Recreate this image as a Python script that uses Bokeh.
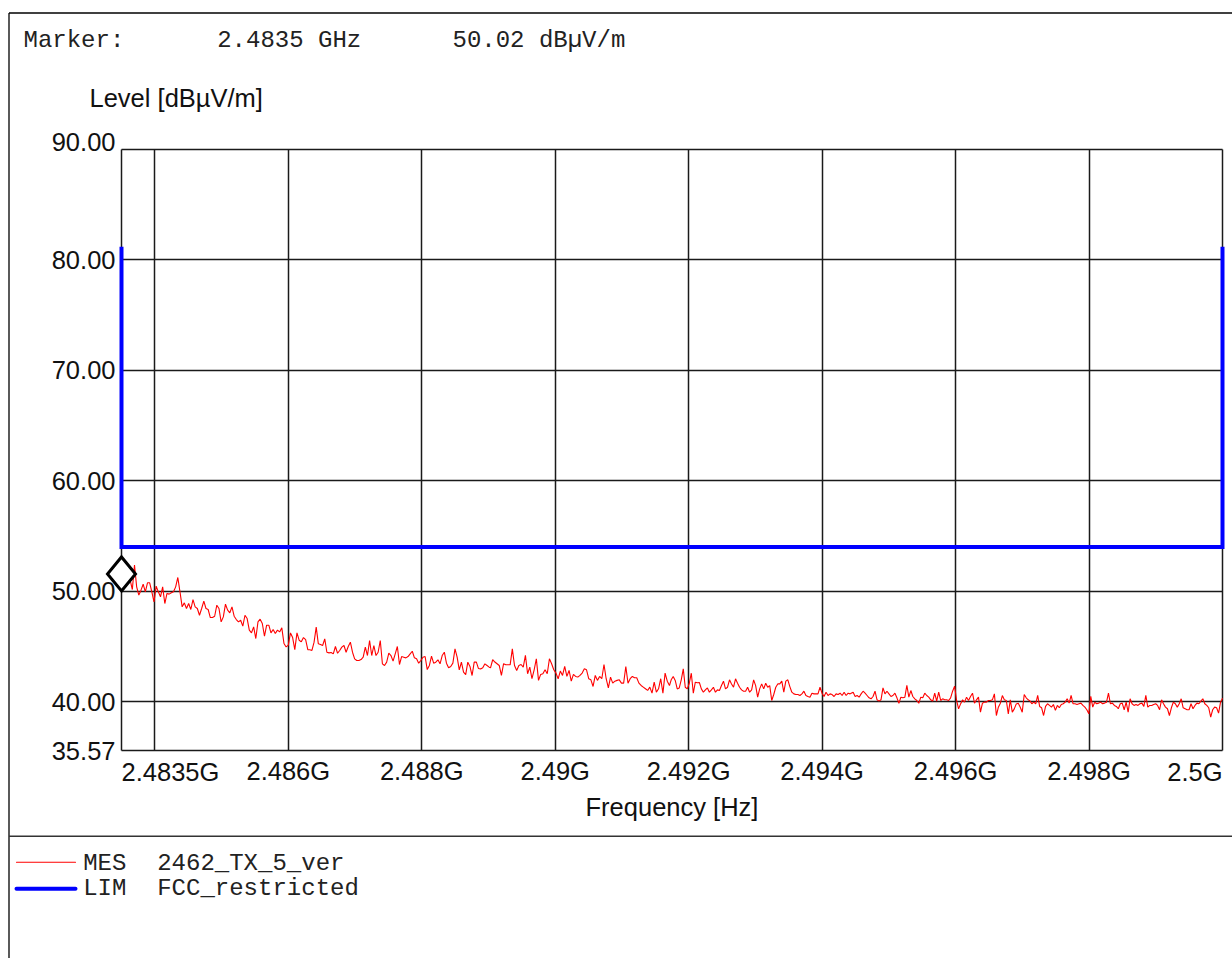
import numpy as np
from bokeh.plotting import figure
from bokeh.models import (Range1d, FixedTicker, NumeralTickFormatter, LinearAxis, Grid,
                          PolyAnnotation)
from bokeh.embed import file_html
from bokeh.resources import INLINE
from bokeh.core.properties import value

# ------------------------------------------------------------------ data
span_hz = [2483.5e6, 2500.0e6]
level_range = [35.57, 90.0]
x_tick_hz = [2486e6, 2488e6, 2490e6, 2492e6, 2494e6, 2496e6, 2498e6]
x_tick_labels = ["2.486G", "2.488G", "2.49G", "2.492G", "2.494G", "2.496G", "2.498G"]
x_grid_hz = [2483.5e6, 2484e6, 2486e6, 2488e6, 2490e6, 2492e6, 2494e6, 2496e6, 2498e6, 2500e6]
edge_labels = ["2.4835G", "2.5G"]
y_ticks = [35.57, 40, 50, 60, 70, 80, 90]
top_label = "90.00"

# sweep segments (GHz start/stop) of the measured trace
seg_ghz = [
    [2.4835, 2.486292],
    [2.486322, 2.489010],
    [2.489030, 2.491712],
    [2.491738, 2.494420],
    [2.494435, 2.497118],
    [2.497142, 2.5000],
]
mes_seg1 = [50.02, 50.5, 51.0, 51.2,
            51.0, 50.15, 52.36, 50.39, 49.64, 50.09, 50.63, 49.94, 50.76, 50.76, 49.94, 49.03, 50.45, 49.94,
            49.49, 50.39, 48.88, 49.79, 49.73, 49.85, 49.94, 50.39, 51.24, 49.94, 48.58, 48.94, 48.43, 48.88,
            48.34, 49.24, 48.58, 48.43, 47.82, 48.43, 49.09, 48.43, 48.34, 47.61, 47.61, 47.73, 48.73, 48.43,
            47.22, 47.67, 48.82, 48.28, 48.04, 48.58, 47.73, 47.43, 47.22, 47.37, 46.83, 47.82, 47.52, 46.47,
            46.22, 46.77, 45.71, 47.22, 47.46, 47.07, 45.92, 46.92, 46.92, 46.22, 46.53, 46.16, 46.47, 46.31,
            46.68, 45.26, 44.95, 45.11, 46.22, 45.80, 44.71, 46.22, 45.56, 45.41, 45.80, 45.62, 44.71]
mes_seg2 = [44.69, 44.63, 45.38, 46.74, 45.23, 45.17, 45.08, 45.68, 44.47, 44.41, 44.44, 44.32, 44.99, 44.38,
            44.63, 44.93, 45.08, 44.47, 44.99, 45.38, 44.47, 43.87, 43.72, 43.72, 43.81, 44.02, 44.93, 44.17,
            45.53, 44.17, 45.08, 44.17, 44.47, 45.53, 43.42, 43.27, 43.57, 44.38, 44.17, 43.66, 44.32, 44.99,
            43.36, 44.08, 44.02, 43.96, 44.08, 44.32, 44.56, 43.96, 43.87, 43.48, 43.72, 44.02, 44.08, 42.90,
            43.27, 44.11, 43.48, 43.57, 43.78, 43.42, 44.17, 44.47, 43.48, 43.06, 43.18, 43.48, 44.78, 44.02,
            42.87, 43.57, 42.66, 42.45, 43.57, 43.18, 42.36, 43.57, 43.57, 42.99, 42.96, 43.06, 43.42, 43.27,
            43.12]
mes_seg3 = [43.06, 43.79, 43.58, 43.43, 43.27, 42.37, 43.43, 43.33, 43.33, 43.33, 44.78, 43.27, 42.82, 43.27,
            43.36, 43.12, 44.18, 42.52, 43.12, 42.07, 42.88, 43.88, 41.92, 42.46, 42.52, 42.88, 42.52, 43.88,
            43.43, 42.88, 42.58, 42.07, 42.76, 42.37, 43.18, 42.28, 42.82, 41.85, 42.46, 42.28, 42.22, 42.37,
            42.58, 42.97, 42.88, 42.07, 41.97, 41.37, 42.37, 41.92, 42.28, 42.07, 43.36, 42.07, 41.25, 42.22,
            41.67, 41.85, 41.92, 41.97, 41.67, 41.67, 43.18, 41.67, 42.07, 42.28, 42.16, 42.16, 41.67, 41.46,
            41.31, 41.16, 41.01, 41.31, 40.77, 41.76, 40.86, 41.16, 42.07, 40.77, 42.58, 41.85, 41.46]
mes_seg4 = [41.97, 42.27, 41.91, 41.15, 41.24, 41.97, 42.96, 41.30, 41.15, 41.66, 42.57, 40.76, 41.76, 41.70,
            41.73, 41.15, 40.85, 41.06, 41.24, 40.85, 41.06, 41.30, 40.85, 41.06, 41.00, 41.45, 41.85, 41.15,
            41.30, 41.97, 41.60, 41.30, 42.06, 41.66, 41.30, 41.06, 40.94, 40.94, 41.30, 40.85, 41.06, 41.97,
            41.45, 40.40, 41.15, 41.60, 41.15, 41.66, 41.30, 41.45, 40.10, 40.64, 41.30, 41.60, 41.60, 41.85,
            40.85, 41.85, 41.97, 41.36, 40.85, 40.70, 40.64, 40.64, 40.55, 40.70, 40.94, 40.55, 40.46, 40.40,
            40.76, 40.70, 40.70, 40.70, 41.30, 40.76, 40.46, 40.85, 40.55, 40.70, 40.64, 40.46, 40.70, 40.64,
            40.76, 40.55, 40.85, 40.55, 40.76, 40.70]
mes_seg5 = [40.76, 40.85, 40.46, 40.55, 40.40, 40.70, 40.94, 40.76, 40.55, 40.34, 40.25, 40.46, 40.94, 40.16,
            40.04, 40.16, 41.24, 40.70, 40.94, 40.70, 40.46, 40.55, 40.76, 40.34, 39.85, 40.40, 40.34, 40.40,
            41.46, 40.40, 41.00, 40.46, 40.25, 40.10, 39.85, 40.40, 40.34, 40.76, 40.55, 40.40, 40.16, 40.04,
            40.76, 40.04, 40.85, 40.10, 40.25, 40.16, 40.16, 40.10, 40.34, 40.94, 41.40, 40.10, 39.34, 39.79,
            40.16, 39.95, 40.40, 40.10, 40.46, 40.76, 39.85, 40.16, 40.40, 39.04, 39.85, 39.95, 39.95, 40.10,
            40.10, 40.16, 40.70, 38.74, 39.49, 39.85, 40.55, 40.16, 40.10, 38.89, 40.16, 39.04, 39.34, 39.79,
            39.85, 39.49, 39.04, 40.64, 40.34, 40.16, 40.04]
mes_seg6 = [39.80, 39.95, 39.80, 40.56, 39.56, 39.44, 38.74, 39.56, 39.80, 39.65, 39.50, 39.74, 39.20, 39.65,
            39.44, 39.74, 39.80, 39.95, 40.25, 39.86, 40.56, 39.80, 39.80, 39.74, 39.80, 39.86, 39.65, 39.50,
            39.26, 38.89, 40.47, 39.50, 39.95, 39.80, 39.86, 39.95, 39.80, 39.86, 39.95, 40.77, 39.80, 39.86,
            39.65, 39.56, 39.35, 39.80, 39.86, 39.26, 39.95, 39.05, 40.25, 39.80, 39.65, 39.74, 39.65, 39.80,
            39.86, 39.56, 40.56, 39.50, 39.65, 39.65, 39.74, 39.80, 39.65, 39.26, 40.16, 39.80, 39.50, 39.35,
            38.74, 39.44, 39.95, 39.80, 39.50, 39.80, 40.25, 39.44, 39.35, 39.26, 39.26, 39.80, 39.35, 39.65,
            39.86, 39.80, 40.04, 40.25, 39.80, 39.65, 39.44, 38.59, 39.26, 39.50, 39.44, 38.95, 39.95, 40.30]
mes_segments = [mes_seg1, mes_seg2, mes_seg3, mes_seg4, mes_seg5, mes_seg6]

lim_freq_ghz = [2.4835, 2.4835, 2.5, 2.5]
lim_level = [81.2, 54.0, 54.0, 81.2]

marker_ghz = 2.4835
marker_level = 50.02
header_texts = ["Marker:", "2.4835 GHz", "50.02 dB\u00b5V/m"]
y_title = "Level [dB\u00b5V/m]"
x_title = "Frequency [Hz]"
legend_codes = ["MES", "LIM"]
legend_names = ["2462_TX_5_ver", "FCC_restricted"]
legend_colors = ["#ff0000", "#0000ff"]
legend_widths = [1.1, 4]

# ------------------------------------------------------------------ layout (page pixels)
W, H = 1232, 958
FX0, FX1 = 121, 1222          # plot area left / right
FY0, FY1 = 149, 750           # plot area top / bottom
SANS = "Liberation Sans"
MONO = "Liberation Mono"
TXT = "#111111"
MONO_COL = "#222222"
GRID_COL = "#1a1a1a"

hz_per_px = (span_hz[1] - span_hz[0]) / (FX1 - FX0)
lv_per_px = (level_range[1] - level_range[0]) / (FY1 - FY0)
x_rng = Range1d(span_hz[0] - FX0 * hz_per_px, span_hz[1] + (W - FX1) * hz_per_px)
y_rng = Range1d(level_range[0] - (H - FY1) * lv_per_px, level_range[1] + FY0 * lv_per_px)

mes_freq = np.concatenate([np.linspace(a * 1e9, b * 1e9, len(v)) for (a, b), v in zip(seg_ghz, mes_segments)])
mes_level = np.concatenate([np.array(v, dtype=float) for v in mes_segments])

p = figure(width=W, height=H, x_range=x_rng, y_range=y_rng,
           output_backend="svg", toolbar_location=None, x_axis_type=None, y_axis_type=None,
           min_border=0, min_border_left=0, min_border_right=0, min_border_top=0, min_border_bottom=0)
p.outline_line_color = None
p.background_fill_color = "white"
p.border_fill_color = "white"
p.extra_x_ranges = {"px": Range1d(0, W)}
p.extra_y_ranges = {"py": Range1d(H, 0)}

# ---- grid (forms the plot box as well)
xg = Grid(dimension=0, ticker=FixedTicker(ticks=x_grid_hz), grid_line_color=GRID_COL, grid_line_width=1.5)
yg = Grid(dimension=1, ticker=FixedTicker(ticks=y_ticks), grid_line_color=GRID_COL, grid_line_width=1.5)
if "cross_bounds" in Grid.properties():
    xg.cross_bounds = (level_range[0], level_range[1])
    yg.cross_bounds = (span_hz[0], span_hz[1])
    p.add_layout(xg)
    p.add_layout(yg)
else:
    p.segment(x0=x_grid_hz, y0=[level_range[0]] * len(x_grid_hz), x1=x_grid_hz,
              y1=[level_range[1]] * len(x_grid_hz), line_color=GRID_COL, line_width=1.5)
    p.segment(x0=[span_hz[0]] * len(y_ticks), y0=y_ticks, x1=[span_hz[1]] * len(y_ticks),
              y1=y_ticks, line_color=GRID_COL, line_width=1.5)

# ---- axes (fixed at the plot box edges)
xaxis = LinearAxis(fixed_location=level_range[0], ticker=FixedTicker(ticks=x_tick_hz),
                   bounds=(span_hz[0], span_hz[1]))
xaxis.major_label_overrides = {t: l for t, l in zip(x_tick_hz, x_tick_labels)}
yaxis = LinearAxis(fixed_location=span_hz[0], ticker=FixedTicker(ticks=y_ticks),
                   formatter=NumeralTickFormatter(format="0.00"), bounds=(level_range[0], level_range[1]))
yaxis.major_label_overrides = {level_range[1]: ""}
for ax in (xaxis, yaxis):
    ax.axis_line_color = None
    ax.major_tick_line_color = None
    ax.minor_tick_line_color = None
    ax.major_tick_in = 0
    ax.major_tick_out = 0
    ax.major_label_text_font = SANS
    ax.major_label_text_font_size = "25.5px"
    ax.major_label_text_color = TXT
yaxis.major_label_standoff = 6
xaxis.major_label_standoff = 6
xaxis.axis_label = x_title
xaxis.axis_label_text_font = SANS
xaxis.axis_label_text_font_size = "25.5px"
xaxis.axis_label_text_font_style = "normal"
xaxis.axis_label_text_color = TXT
xaxis.axis_label_standoff = 5
p.add_layout(xaxis, "below")
p.add_layout(yaxis, "left")

# ---- traces
p.line(mes_freq, mes_level, line_color="#ff0000", line_width=1.1)
p.line([f * 1e9 for f in lim_freq_ghz], lim_level, line_color="#0000ff", line_width=4, line_join="miter")

# marker diamond, bottom tip on the marker point
hw = 14 * hz_per_px
hh = 17 * lv_per_px
mx = marker_ghz * 1e9
p.add_layout(PolyAnnotation(xs=[mx, mx + hw, mx, mx - hw],
                            ys=[marker_level, marker_level + hh, marker_level + 2 * hh, marker_level + hh],
                            fill_color="white", fill_alpha=1.0, line_color="black", line_alpha=1.0,
                            line_width=3, line_join="miter"))

# ---- texts around the plot box (vertical centre given)
def ptext(x, y, texts, font, size, color, align="left", xr="px"):
    kw = dict(x_range_name=xr) if xr else {}
    p.text(x=x, y=y, y_range_name="py", text=texts, text_align=align, text_baseline="middle",
           text_font=value(font), text_font_size=size, text_color=color, **kw)

ptext([span_hz[0]], [771], [edge_labels[0]], SANS, "25.5px", TXT, "left", xr=None)
ptext([span_hz[1]], [771], [edge_labels[1]], SANS, "25.5px", TXT, "right", xr=None)
ptext([FX0 - 6], [141], [top_label], SANS, "25.5px", TXT, "right")
ptext([89], [97.5], [y_title], SANS, "25.5px", TXT, "left")

# header
ptext([23, 216.7, 452], [40.3, 40.3, 40.3], header_texts, MONO, "24px", MONO_COL, "left")

# page frame and legend separator
p.segment(x0=[8.5, 8.5, 8.5], y0=[12.5, 12.5, 835.7], x1=[W, 8.5, W], y1=[12.5, H, 835.7],
          x_range_name="px", y_range_name="py", line_color=["black", "black", "#333333"],
          line_width=[1.3, 1.3, 1.5])

# legend
leg_y = [861.7, 888.3]
for i in range(2):
    p.line([16, 75], [leg_y[i], leg_y[i]], x_range_name="px", y_range_name="py",
           line_color=legend_colors[i], line_width=legend_widths[i], line_cap="round")
ptext([82.7, 82.7], [862.5, 888], legend_codes, MONO, "24px", MONO_COL, "left")
ptext([156.7, 156.7], [862.5, 888], legend_names, MONO, "24px", MONO_COL, "left")

open("out.html", "w").write(file_html(p, INLINE))
